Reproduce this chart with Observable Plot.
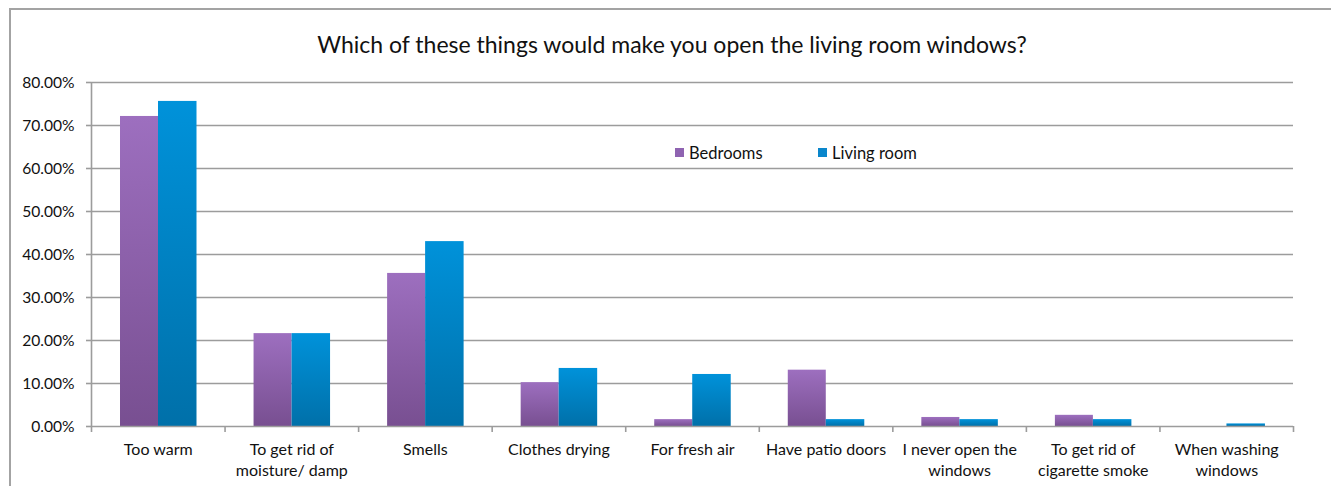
<!DOCTYPE html>
<html>
<head>
<meta charset="utf-8">
<script src="https://cdn.jsdelivr.net/npm/d3@7"></script>
<script src="https://cdn.jsdelivr.net/npm/@observablehq/plot@0.6"></script>
<style>
  html, body { margin: 0; padding: 0; background: #fff; }
  #wrap { position: relative; width: 1331px; height: 486px; overflow: hidden; font-family: Lato, "Open Sans", sans-serif; }
  #border { position: absolute; left: 9px; top: 8px; width: 1400px; height: 600px; border: 2px solid #a3a3a3; box-sizing: border-box; }
  #title { position: absolute; left: 0; width: 1344px; top: 30px; text-align: center; font-size: 23px; color: #111; }
  #chart { position: absolute; left: 0; top: 60px; }
  #legend { position: absolute; top: 143px; left: 675px; font-size: 16.5px; color: #111; }
  .sw { position: absolute; display: flex; align-items: center; white-space: nowrap; }
  .sq { width: 9px; height: 9px; margin-right: 5px; margin-top: -2px; }
</style>
</head>
<body>
<div id="wrap">
  <div id="border"></div>
  <div id="title">Which of these things would make you open the living room windows?</div>
  <div id="chart"></div>
  <div id="legend"></div>
</div>
<script>
const categories = ["Too warm", "To get rid of moisture/ damp", "Smells", "Clothes drying", "For fresh air", "Have patio doors", "I never open the windows", "To get rid of cigarette smoke", "When washing windows"];
const tickLabels = ["Too warm", "To get rid of\nmoisture/ damp", "Smells", "Clothes drying", "For fresh air", "Have patio doors", "I never open the\nwindows", "To get rid of\ncigarette smoke", "When washing\nwindows"];
const series = ["Bedrooms", "Living room"];
const bedrooms = [0.721, 0.216, 0.356, 0.102, 0.016, 0.131, 0.021, 0.026, 0.0];
const livingRoom = [0.756, 0.216, 0.430, 0.135, 0.121, 0.016, 0.016, 0.016, 0.006];
const yTicks = [0, 0.1, 0.2, 0.3, 0.4, 0.5, 0.6, 0.7, 0.8];

const W = 1331, mL = 91, mR = 38;
const step = (W - mL - mR) / categories.length;
const grid = "#9c9c9c";

const rows = (vals, s) => categories.map((c, i) => ({category: c, series: s, value: vals[i]}));
const bedData = rows(bedrooms, series[0]);
const livData = rows(livingRoom, series[1]);
const labelOf = new Map(categories.map((c, i) => [c, tickLabels[i]]));

function defs() {
  const ns = "http://www.w3.org/2000/svg";
  const d = document.createElementNS(ns, "defs");
  const mk = (id, top, bottom) => {
    const g = document.createElementNS(ns, "linearGradient");
    g.setAttribute("id", id); g.setAttribute("x1", "0"); g.setAttribute("y1", "0"); g.setAttribute("x2", "0"); g.setAttribute("y2", "1");
    [[0, top], [1, bottom]].forEach(([o, c]) => {
      const s = document.createElementNS(ns, "stop");
      s.setAttribute("offset", o); s.setAttribute("stop-color", c); g.appendChild(s);
    });
    d.appendChild(g);
  };
  mk("gPurple", "#9d6fbf", "#784f91");
  mk("gBlue", "#0092da", "#0070a9");
  return d;
}

const chart = Plot.plot({
  width: W,
  height: 426,
  marginLeft: mL,
  marginRight: mR,
  marginTop: 22,
  marginBottom: 60,
  style: {fontFamily: "Lato, 'Open Sans', sans-serif", fontSize: "16px", color: "#111", background: "transparent"},
  x: {domain: categories, padding: 0, round: false, label: null},
  y: {domain: [0, 0.8], label: null},
  marks: [
    defs,
    Plot.ruleY(yTicks.slice(1), {stroke: grid, strokeWidth: 1.6}),
    Plot.barY(bedData, {x: "category", y: "value", fill: "url(#gPurple)", insetLeft: 29, insetRight: step - 67}),
    Plot.barY(livData, {x: "category", y: "value", fill: "url(#gBlue)", insetLeft: 67, insetRight: step - 105.5}),
    Plot.ruleY([0], {stroke: grid, strokeWidth: 1.6}),
    Plot.ruleX([categories[0]], {x: d => d, dx: -step / 2, y1: 0, y2: 0.8, stroke: grid, strokeWidth: 1.6}),
    Plot.ruleX(categories, {x: d => d, dx: -step / 2, y1: 0, y2: 0, insetBottom: -6, stroke: grid, strokeWidth: 1.6}),
    Plot.ruleX([categories[categories.length - 1]], {x: d => d, dx: step / 2, y1: 0, y2: 0, insetBottom: -6, stroke: grid, strokeWidth: 1.6}),
    Plot.axisY({ticks: yTicks, tickFormat: d3.format(".2%"), tickSize: 5, tickPadding: 12, stroke: grid, strokeWidth: 1.6, fill: "#111", fontSize: 15.6}),
    Plot.axisX({tickSize: 0, tickPadding: 13, tickFormat: d => labelOf.get(d), lineHeight: 1.32, fill: "#111", fontSize: 16})
  ]
});
document.getElementById("chart").appendChild(chart);

const legend = document.getElementById("legend");
const legendColors = ["#8f63b1", "#0a86cb"];
const legendOffsets = [0, 143];
series.forEach((s, i) => {
  const el = document.createElement("div");
  el.className = "sw";
  el.style.left = legendOffsets[i] + "px";
  el.innerHTML = `<span class="sq" style="background:${legendColors[i]}"></span><span>${s}</span>`;
  legend.appendChild(el);
});
</script>
</body>
</html>
